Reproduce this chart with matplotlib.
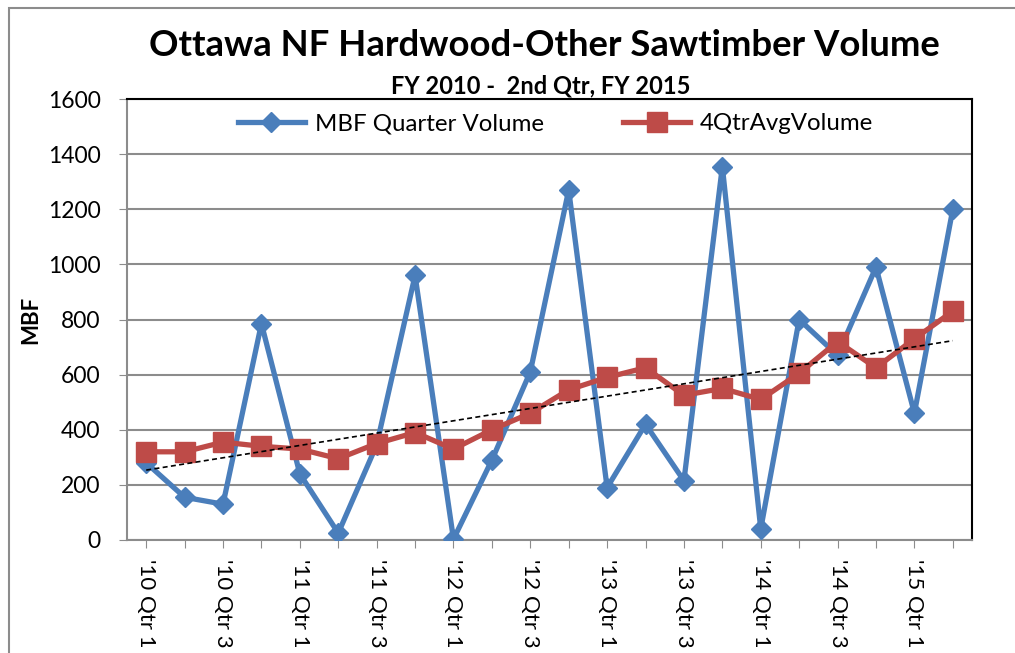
import numpy as np
import matplotlib
matplotlib.use("Agg")
import matplotlib.pyplot as plt
from matplotlib.patches import Rectangle

plt.rcParams['font.family'] = ['Lato', 'DejaVu Sans']

# ---- data ----
quarters = ["'10 Qtr 1", "'10 Qtr 2", "'10 Qtr 3", "'10 Qtr 4",
            "'11 Qtr 1", "'11 Qtr 2", "'11 Qtr 3", "'11 Qtr 4",
            "'12 Qtr 1", "'12 Qtr 2", "'12 Qtr 3", "'12 Qtr 4",
            "'13 Qtr 1", "'13 Qtr 2", "'13 Qtr 3", "'13 Qtr 4",
            "'14 Qtr 1", "'14 Qtr 2", "'14 Qtr 3", "'14 Qtr 4",
            "'15 Qtr 1", "'15 Qtr 2"]
mbf_quarter = [280, 155, 130, 785, 240, 25, 345, 960, 3, 290, 610,
               1270, 190, 420, 215, 1355, 40, 800, 670, 990, 460, 1200]
avg_4qtr = [320, 320, 355, 340, 330, 295, 350, 390, 330, 400, 460,
            545, 590, 625, 525, 550, 510, 605, 720, 625, 730, 830]
yticks = [0, 200, 400, 600, 800, 1000, 1200, 1400, 1600]

W, H = 1015, 653
fig = plt.figure(figsize=(W / 100, H / 100), dpi=100)
fig.patch.set_facecolor('white')

# chart area border (partially visible)
fig.patches.append(Rectangle((8.5 / W, -0.1), 1.2, 1 - 8.5 / H + 0.1,
                             transform=fig.transFigure, fill=False,
                             edgecolor='#8c8c8c', lw=1.5))

L, R, T, B = 127, 972, 99, 540
ax = fig.add_axes([L / W, (H - B) / H, (R - L) / W, (B - T) / H])

x = np.arange(len(quarters))
blue = '#4A7EBB'
red = '#BE4B48'

ax.plot(x, mbf_quarter, color=blue, lw=3.8, marker='D', ms=10,
        label='MBF Quarter Volume', zorder=3, solid_joinstyle='round')
ax.plot(x, avg_4qtr, color=red, lw=3.8, marker='s', ms=14,
        label='4QtrAvgVolume', zorder=4)

# linear trendline of the 4-quarter average
coef = np.polyfit(x, avg_4qtr, 1)
ax.plot(x, np.polyval(coef, x), color='black', ls=(0, (3, 2)), lw=1.2,
        zorder=5)

ax.set_xlim(-0.5, len(quarters) - 0.5)
ax.set_ylim(0, 1600)
ax.set_yticks(yticks)
ax.set_yticklabels([str(v) for v in yticks], fontsize=16.5)
ax.set_xticks(x)
ax.set_xticklabels([q if i % 2 == 0 else '' for i, q in enumerate(quarters)],
                   rotation=-90, fontsize=16, va='top', ha='center')
ax.tick_params(axis='x', length=6, color='#8c8c8c', pad=8)
ax.tick_params(axis='y', length=6, color='#8c8c8c', pad=13)
ax.grid(axis='y', color='#8c8c8c', lw=1.5, zorder=0)
ax.set_axisbelow(True)
for s in ['top', 'right']:
    ax.spines[s].set_color('black')
    ax.spines[s].set_linewidth(1.5)
for s in ['left', 'bottom']:
    ax.spines[s].set_color('#8c8c8c')
    ax.spines[s].set_linewidth(1.5)

ax.set_ylabel('MBF', fontsize=16, fontweight='bold', labelpad=4.5)

ax.legend(loc='upper center', bbox_to_anchor=(0.507, 1.017), ncol=2,
          frameon=False, fontsize=17.3, handlelength=2.8, columnspacing=3.3,
          handletextpad=0.4)

fig.text(544 / W, 1 - 46 / H, 'Ottawa NF Hardwood-Other Sawtimber Volume',
         ha='center', va='center', fontsize=26.3, fontweight='bold')
fig.text(541 / W, 1 - 86 / H, 'FY 2010 -  2nd Qtr, FY 2015',
         ha='center', va='center', fontsize=17, fontweight='bold')

fig.savefig('out.png', dpi=100)
